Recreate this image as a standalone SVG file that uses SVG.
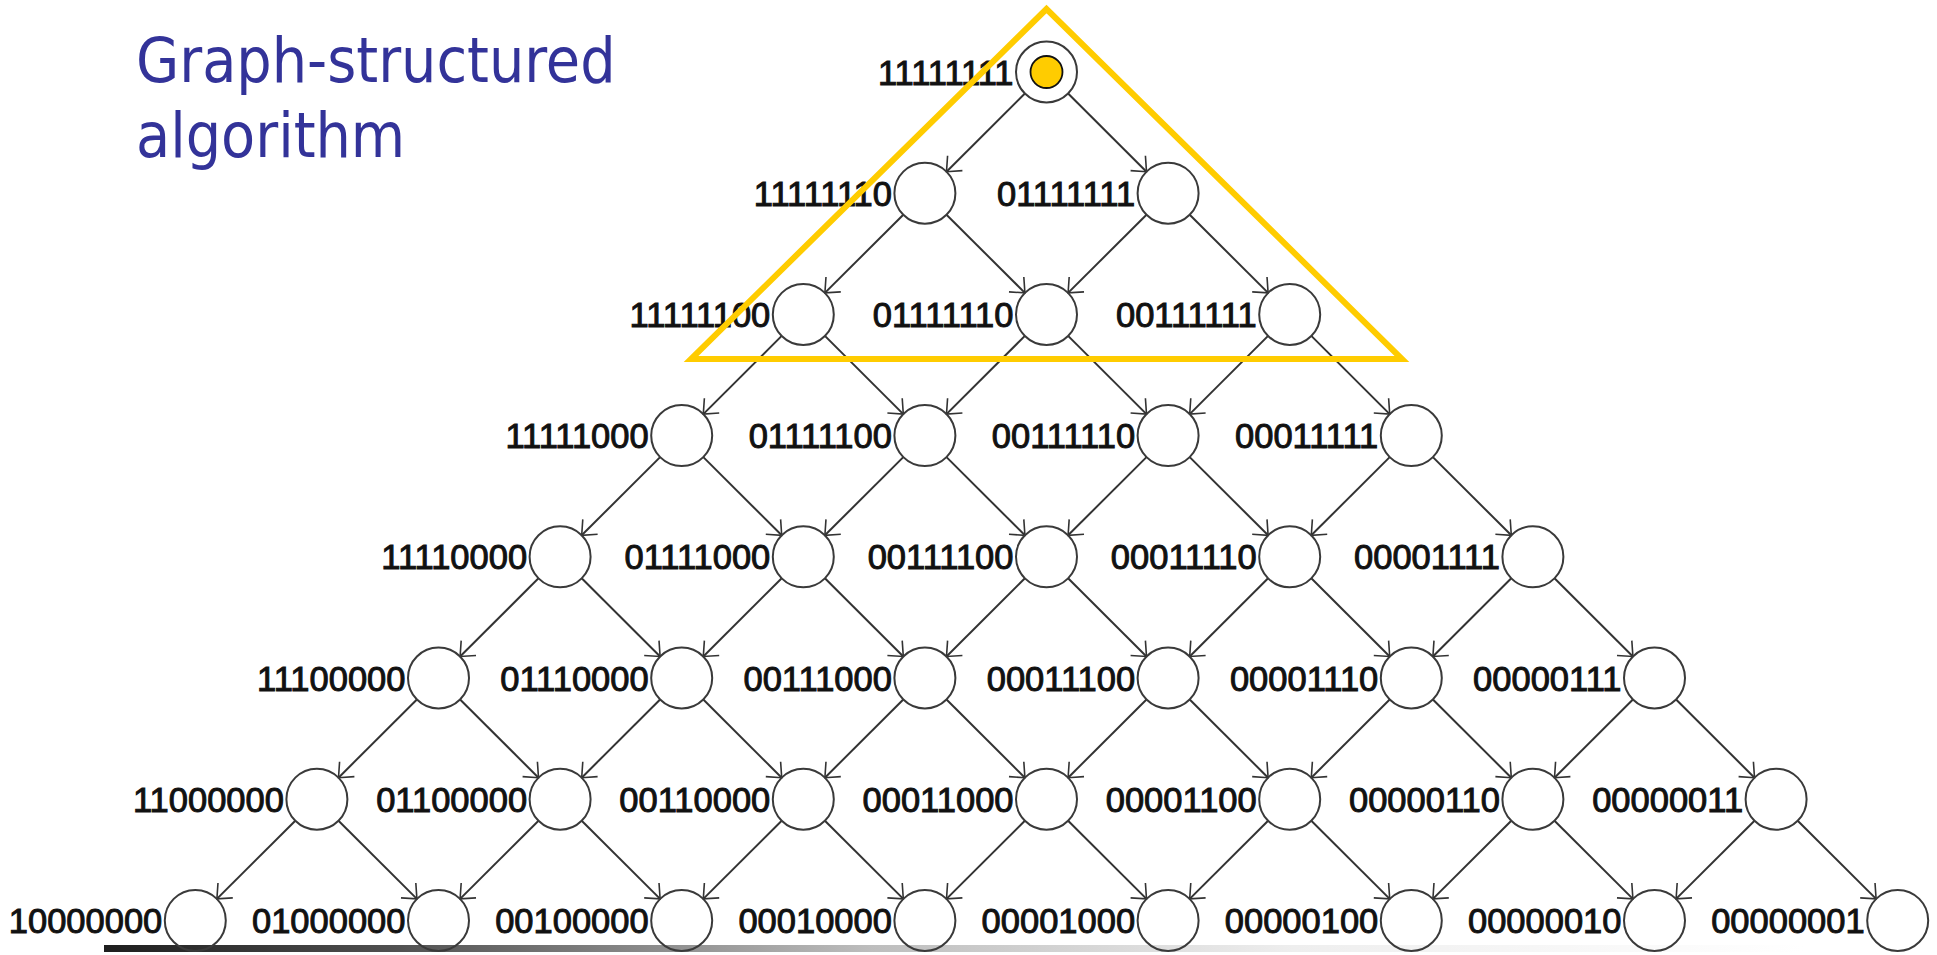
<svg xmlns="http://www.w3.org/2000/svg" width="1937" height="955" viewBox="0 0 1937 955">
<style>
.lbl{font-family:"Liberation Sans",Arial,sans-serif;font-size:34.5px;fill:#111;stroke:#111;stroke-width:1;text-anchor:end}
.nd{fill:none;stroke:#3a3a3a;stroke-width:2}
.ed{stroke:#333;stroke-width:2;fill:none;marker-end:url(#arr)}
.title{font-family:"DejaVu Sans Condensed","DejaVu Sans",sans-serif;font-stretch:condensed;font-size:62px;fill:#333399}
</style>
<defs>
<marker id="arr" markerUnits="userSpaceOnUse" markerWidth="20" markerHeight="26" viewBox="-15 -13 17 26" refX="0" refY="0" orient="auto">
<path d="M-12,-10.5 L0,0 L-12,10.5" fill="none" stroke="#333" stroke-width="1.6"/>
</marker>
<linearGradient id="bar" x1="0" y1="0" x2="1" y2="0">
<stop offset="0" stop-color="#1e1e1e"/>
<stop offset="0.17" stop-color="#505050"/>
<stop offset="0.45" stop-color="#bdbdbd"/>
<stop offset="0.7" stop-color="#eeeeee"/>
<stop offset="1" stop-color="#ffffff"/>
</linearGradient>
</defs>
<rect width="1937" height="955" fill="#ffffff"/>
<g id="title">
<text class="title" x="136" y="82">Graph-structured</text>
<text class="title" x="136" y="157">algorithm</text>
</g>
<rect id="baseline-bar" x="104" y="945" width="1700" height="7" fill="url(#bar)"/>
<g id="connectors">
<path class="ed" d="M1024.9,93.5L946.5,171.7"/><path class="ed" d="M1068.1,93.5L1146.5,171.7"/>
<path class="ed" d="M903.3,214.7L824.9,292.9"/><path class="ed" d="M946.5,214.7L1024.9,292.9"/>
<path class="ed" d="M1146.5,214.7L1068.1,292.9"/><path class="ed" d="M1189.7,214.7L1268.1,292.9"/>
<path class="ed" d="M781.7,335.9L703.3,414.1"/><path class="ed" d="M824.9,335.9L903.3,414.1"/>
<path class="ed" d="M1024.9,335.9L946.5,414.1"/><path class="ed" d="M1068.1,335.9L1146.5,414.1"/>
<path class="ed" d="M1268.1,335.9L1189.7,414.1"/><path class="ed" d="M1311.3,335.9L1389.7,414.1"/>
<path class="ed" d="M660.1,457.1L581.7,535.3"/><path class="ed" d="M703.3,457.1L781.7,535.3"/>
<path class="ed" d="M903.3,457.1L824.9,535.3"/><path class="ed" d="M946.5,457.1L1024.9,535.3"/>
<path class="ed" d="M1146.5,457.1L1068.1,535.3"/><path class="ed" d="M1189.7,457.1L1268.1,535.3"/>
<path class="ed" d="M1389.7,457.1L1311.3,535.3"/><path class="ed" d="M1432.9,457.1L1511.3,535.3"/>
<path class="ed" d="M538.5,578.3L460.1,656.5"/><path class="ed" d="M581.7,578.3L660.1,656.5"/>
<path class="ed" d="M781.7,578.3L703.3,656.5"/><path class="ed" d="M824.9,578.3L903.3,656.5"/>
<path class="ed" d="M1024.9,578.3L946.5,656.5"/><path class="ed" d="M1068.1,578.3L1146.5,656.5"/>
<path class="ed" d="M1268.1,578.3L1189.7,656.5"/><path class="ed" d="M1311.3,578.3L1389.7,656.5"/>
<path class="ed" d="M1511.3,578.3L1432.9,656.5"/><path class="ed" d="M1554.5,578.3L1632.9,656.5"/>
<path class="ed" d="M416.9,699.5L338.5,777.7"/><path class="ed" d="M460.1,699.5L538.5,777.7"/>
<path class="ed" d="M660.1,699.5L581.7,777.7"/><path class="ed" d="M703.3,699.5L781.7,777.7"/>
<path class="ed" d="M903.3,699.5L824.9,777.7"/><path class="ed" d="M946.5,699.5L1024.9,777.7"/>
<path class="ed" d="M1146.5,699.5L1068.1,777.7"/><path class="ed" d="M1189.7,699.5L1268.1,777.7"/>
<path class="ed" d="M1389.7,699.5L1311.3,777.7"/><path class="ed" d="M1432.9,699.5L1511.3,777.7"/>
<path class="ed" d="M1632.9,699.5L1554.5,777.7"/><path class="ed" d="M1676.1,699.5L1754.5,777.7"/>
<path class="ed" d="M295.3,820.7L216.9,898.9"/><path class="ed" d="M338.5,820.7L416.9,898.9"/>
<path class="ed" d="M538.5,820.7L460.1,898.9"/><path class="ed" d="M581.7,820.7L660.1,898.9"/>
<path class="ed" d="M781.7,820.7L703.3,898.9"/><path class="ed" d="M824.9,820.7L903.3,898.9"/>
<path class="ed" d="M1024.9,820.7L946.5,898.9"/><path class="ed" d="M1068.1,820.7L1146.5,898.9"/>
<path class="ed" d="M1268.1,820.7L1189.7,898.9"/><path class="ed" d="M1311.3,820.7L1389.7,898.9"/>
<path class="ed" d="M1511.3,820.7L1432.9,898.9"/><path class="ed" d="M1554.5,820.7L1632.9,898.9"/>
<path class="ed" d="M1754.5,820.7L1676.1,898.9"/><path class="ed" d="M1797.7,820.7L1876.1,898.9"/>
</g>
<g id="n-11111111"><circle class="nd" cx="1046.5" cy="72" r="30.5"/><circle cx="1046.5" cy="72" r="16" fill="#ffcc00" stroke="#111" stroke-width="1.8"/><text class="lbl" x="1013.5" y="84.5">11111111</text></g>
<g id="n-11111110"><circle class="nd" cx="924.9" cy="193.2" r="30.5"/><text class="lbl" x="891.9" y="205.7">11111110</text></g>
<g id="n-01111111"><circle class="nd" cx="1168.1" cy="193.2" r="30.5"/><text class="lbl" x="1135.1" y="205.7">01111111</text></g>
<g id="n-11111100"><circle class="nd" cx="803.3" cy="314.4" r="30.5"/><text class="lbl" x="770.3" y="326.9">11111100</text></g>
<g id="n-01111110"><circle class="nd" cx="1046.5" cy="314.4" r="30.5"/><text class="lbl" x="1013.5" y="326.9">01111110</text></g>
<g id="n-00111111"><circle class="nd" cx="1289.7" cy="314.4" r="30.5"/><text class="lbl" x="1256.7" y="326.9">00111111</text></g>
<g id="n-11111000"><circle class="nd" cx="681.7" cy="435.6" r="30.5"/><text class="lbl" x="648.7" y="448.1">11111000</text></g>
<g id="n-01111100"><circle class="nd" cx="924.9" cy="435.6" r="30.5"/><text class="lbl" x="891.9" y="448.1">01111100</text></g>
<g id="n-00111110"><circle class="nd" cx="1168.1" cy="435.6" r="30.5"/><text class="lbl" x="1135.1" y="448.1">00111110</text></g>
<g id="n-00011111"><circle class="nd" cx="1411.3" cy="435.6" r="30.5"/><text class="lbl" x="1378.3" y="448.1">00011111</text></g>
<g id="n-11110000"><circle class="nd" cx="560.1" cy="556.8" r="30.5"/><text class="lbl" x="527.1" y="569.3">11110000</text></g>
<g id="n-01111000"><circle class="nd" cx="803.3" cy="556.8" r="30.5"/><text class="lbl" x="770.3" y="569.3">01111000</text></g>
<g id="n-00111100"><circle class="nd" cx="1046.5" cy="556.8" r="30.5"/><text class="lbl" x="1013.5" y="569.3">00111100</text></g>
<g id="n-00011110"><circle class="nd" cx="1289.7" cy="556.8" r="30.5"/><text class="lbl" x="1256.7" y="569.3">00011110</text></g>
<g id="n-00001111"><circle class="nd" cx="1532.9" cy="556.8" r="30.5"/><text class="lbl" x="1499.9" y="569.3">00001111</text></g>
<g id="n-11100000"><circle class="nd" cx="438.5" cy="678" r="30.5"/><text class="lbl" x="405.5" y="690.5">11100000</text></g>
<g id="n-01110000"><circle class="nd" cx="681.7" cy="678" r="30.5"/><text class="lbl" x="648.7" y="690.5">01110000</text></g>
<g id="n-00111000"><circle class="nd" cx="924.9" cy="678" r="30.5"/><text class="lbl" x="891.9" y="690.5">00111000</text></g>
<g id="n-00011100"><circle class="nd" cx="1168.1" cy="678" r="30.5"/><text class="lbl" x="1135.1" y="690.5">00011100</text></g>
<g id="n-00001110"><circle class="nd" cx="1411.3" cy="678" r="30.5"/><text class="lbl" x="1378.3" y="690.5">00001110</text></g>
<g id="n-00000111"><circle class="nd" cx="1654.5" cy="678" r="30.5"/><text class="lbl" x="1621.5" y="690.5">00000111</text></g>
<g id="n-11000000"><circle class="nd" cx="316.9" cy="799.2" r="30.5"/><text class="lbl" x="283.9" y="811.7">11000000</text></g>
<g id="n-01100000"><circle class="nd" cx="560.1" cy="799.2" r="30.5"/><text class="lbl" x="527.1" y="811.7">01100000</text></g>
<g id="n-00110000"><circle class="nd" cx="803.3" cy="799.2" r="30.5"/><text class="lbl" x="770.3" y="811.7">00110000</text></g>
<g id="n-00011000"><circle class="nd" cx="1046.5" cy="799.2" r="30.5"/><text class="lbl" x="1013.5" y="811.7">00011000</text></g>
<g id="n-00001100"><circle class="nd" cx="1289.7" cy="799.2" r="30.5"/><text class="lbl" x="1256.7" y="811.7">00001100</text></g>
<g id="n-00000110"><circle class="nd" cx="1532.9" cy="799.2" r="30.5"/><text class="lbl" x="1499.9" y="811.7">00000110</text></g>
<g id="n-00000011"><circle class="nd" cx="1776.1" cy="799.2" r="30.5"/><text class="lbl" x="1743.1" y="811.7">00000011</text></g>
<g id="n-10000000"><circle class="nd" cx="195.3" cy="920.4" r="30.5"/><text class="lbl" x="162.3" y="932.9">10000000</text></g>
<g id="n-01000000"><circle class="nd" cx="438.5" cy="920.4" r="30.5"/><text class="lbl" x="405.5" y="932.9">01000000</text></g>
<g id="n-00100000"><circle class="nd" cx="681.7" cy="920.4" r="30.5"/><text class="lbl" x="648.7" y="932.9">00100000</text></g>
<g id="n-00010000"><circle class="nd" cx="924.9" cy="920.4" r="30.5"/><text class="lbl" x="891.9" y="932.9">00010000</text></g>
<g id="n-00001000"><circle class="nd" cx="1168.1" cy="920.4" r="30.5"/><text class="lbl" x="1135.1" y="932.9">00001000</text></g>
<g id="n-00000100"><circle class="nd" cx="1411.3" cy="920.4" r="30.5"/><text class="lbl" x="1378.3" y="932.9">00000100</text></g>
<g id="n-00000010"><circle class="nd" cx="1654.5" cy="920.4" r="30.5"/><text class="lbl" x="1621.5" y="932.9">00000010</text></g>
<g id="n-00000001"><circle class="nd" cx="1897.7" cy="920.4" r="30.5"/><text class="lbl" x="1864.7" y="932.9">00000001</text></g>
<g id="highlight-triangle"><polygon points="1046.5,9 691,359 1402,359" fill="none" stroke="#ffcc00" stroke-width="6" stroke-linejoin="miter"/></g>
</svg>
